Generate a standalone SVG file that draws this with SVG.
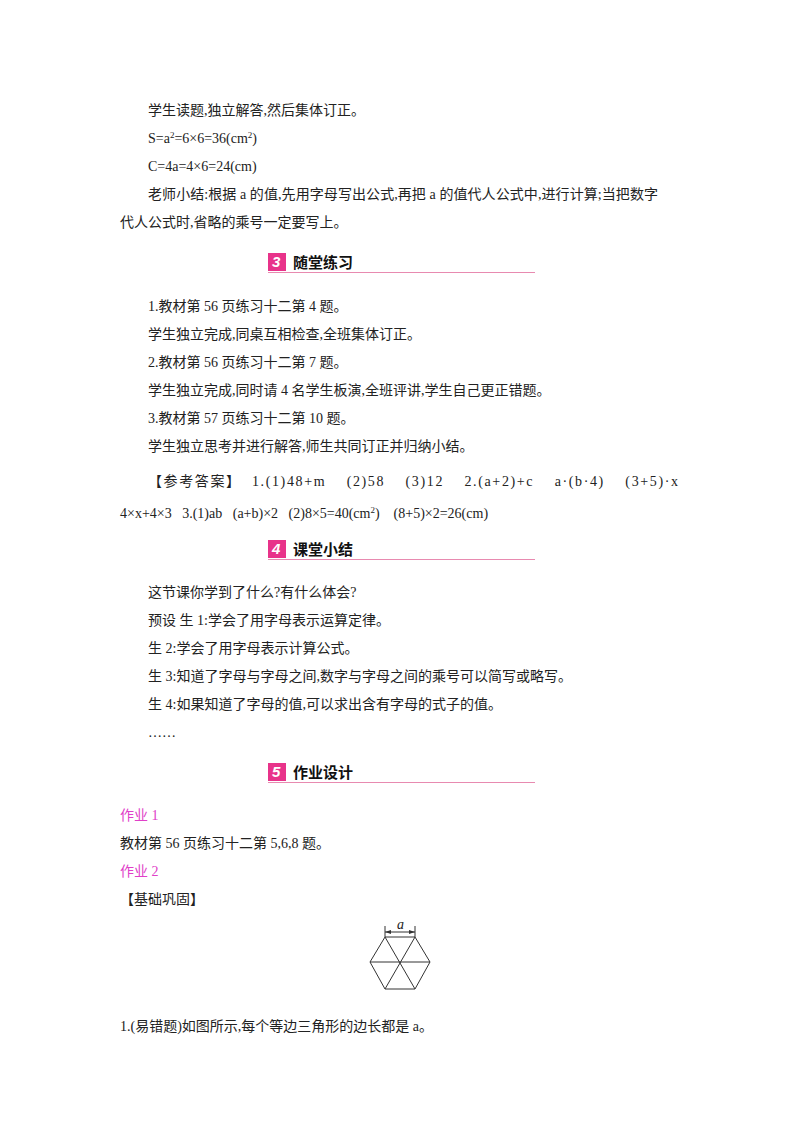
<svg xmlns="http://www.w3.org/2000/svg" width="800" height="1132" viewBox="0 0 800 1132">
<style>
text{font-family:"Liberation Serif","Noto Sans CJK SC",serif;font-size:14px;fill:#222}
.h{font-family:"Noto Sans CJK SC",sans-serif;font-size:15px;font-weight:bold;fill:#111}
.n{font-family:"Liberation Sans",sans-serif;font-size:15px;font-weight:bold;font-style:italic;fill:#fff}
.p{fill:#e8338a}
.m{fill:#e040c8}
.ln{stroke:#e88ab0;stroke-width:1.2}
.hx{stroke:#333;stroke-width:1;fill:none}
</style>
<rect width="800" height="1132" fill="#fff"/>
<text x="148" y="115">学生读题,独立解答,然后集体订正。</text>
<text x="148" y="143">S=a<tspan font-size="9" dy="-5">2</tspan><tspan dy="5">=6×6=36(cm</tspan><tspan font-size="9" dy="-5">2</tspan><tspan dy="5">)</tspan></text>
<text x="148" y="171">C=4a=4×6=24(cm)</text>
<text x="148" y="199" textLength="510" lengthAdjust="spacing">老师小结:根据 a 的值,先用字母写出公式,再把 a 的值代人公式中,进行计算;当把数字</text>
<text x="120" y="227">代人公式时,省略的乘号一定要写上。</text>
<g id="h3"><rect x="268" y="253" width="18" height="18" class="p"/><text x="272" y="267" class="n">3</text><text x="293" y="268" class="h">随堂练习</text><line x1="268" y1="272.5" x2="535" y2="272.5" class="ln"/></g>
<text x="148" y="311">1.教材第 56 页练习十二第 4 题。</text>
<text x="148" y="339">学生独立完成,同桌互相检查,全班集体订正。</text>
<text x="148" y="367">2.教材第 56 页练习十二第 7 题。</text>
<text x="148" y="395">学生独立完成,同时请 4 名学生板演,全班评讲,学生自己更正错题。</text>
<text x="148" y="423">3.教材第 57 页练习十二第 10 题。</text>
<text x="148" y="451">学生独立思考并进行解答,师生共同订正并归纳小结。</text>
<text x="148" y="486" xml:space="preserve" textLength="530" lengthAdjust="spacing">【参考答案】  1.(1)48+m    (2)58    (3)12    2.(a+2)+c    a·(b·4)    (3+5)·x</text>
<text x="120" y="518" xml:space="preserve">4×x+4×3   3.(1)ab   (a+b)×2   (2)8×5=40(cm<tspan font-size="9" dy="-5">2</tspan><tspan dy="5">)    (8+5)×2=26(cm)</tspan></text>
<g id="h4"><rect x="268" y="540" width="18" height="18" class="p"/><text x="272" y="554" class="n">4</text><text x="293" y="555" class="h">课堂小结</text><line x1="268" y1="559.5" x2="535" y2="559.5" class="ln"/></g>
<text x="148" y="597">这节课你学到了什么?有什么体会?</text>
<text x="148" y="625">预设 生 1:学会了用字母表示运算定律。</text>
<text x="148" y="653">生 2:学会了用字母表示计算公式。</text>
<text x="148" y="681">生 3:知道了字母与字母之间,数字与字母之间的乘号可以简写或略写。</text>
<text x="148" y="709">生 4:如果知道了字母的值,可以求出含有字母的式子的值。</text>
<text x="148" y="737">……</text>
<g id="h5"><rect x="268" y="763" width="18" height="18" class="p"/><text x="272" y="777" class="n">5</text><text x="293" y="778" class="h">作业设计</text><line x1="268" y1="782.5" x2="535" y2="782.5" class="ln"/></g>
<text x="120" y="820" class="m">作业 1</text>
<text x="120" y="848">教材第 56 页练习十二第 5,6,8 题。</text>
<text x="120" y="876" class="m">作业 2</text>
<text x="120" y="904">【基础巩固】</text>
<g id="hex">
<polygon points="370,962 385,937 415,937 430,962 415,989 385,989" class="hx"/>
<line x1="370" y1="962" x2="430" y2="962" class="hx"/>
<line x1="385" y1="937" x2="415" y2="989" class="hx"/>
<line x1="415" y1="937" x2="385" y2="989" class="hx"/>
<line x1="385" y1="926" x2="385" y2="937" class="hx"/>
<line x1="415" y1="926" x2="415" y2="937" class="hx"/>
<line x1="385" y1="932" x2="415" y2="932" class="hx"/>
<polygon points="385,932 391,930 391,934" fill="#333"/>
<polygon points="415,932 409,930 409,934" fill="#333"/>
<text x="397" y="929" font-size="9" font-style="italic">a</text>
</g>
<text x="120" y="1031">1.(易错题)如图所示,每个等边三角形的边长都是 a。</text>
</svg>
